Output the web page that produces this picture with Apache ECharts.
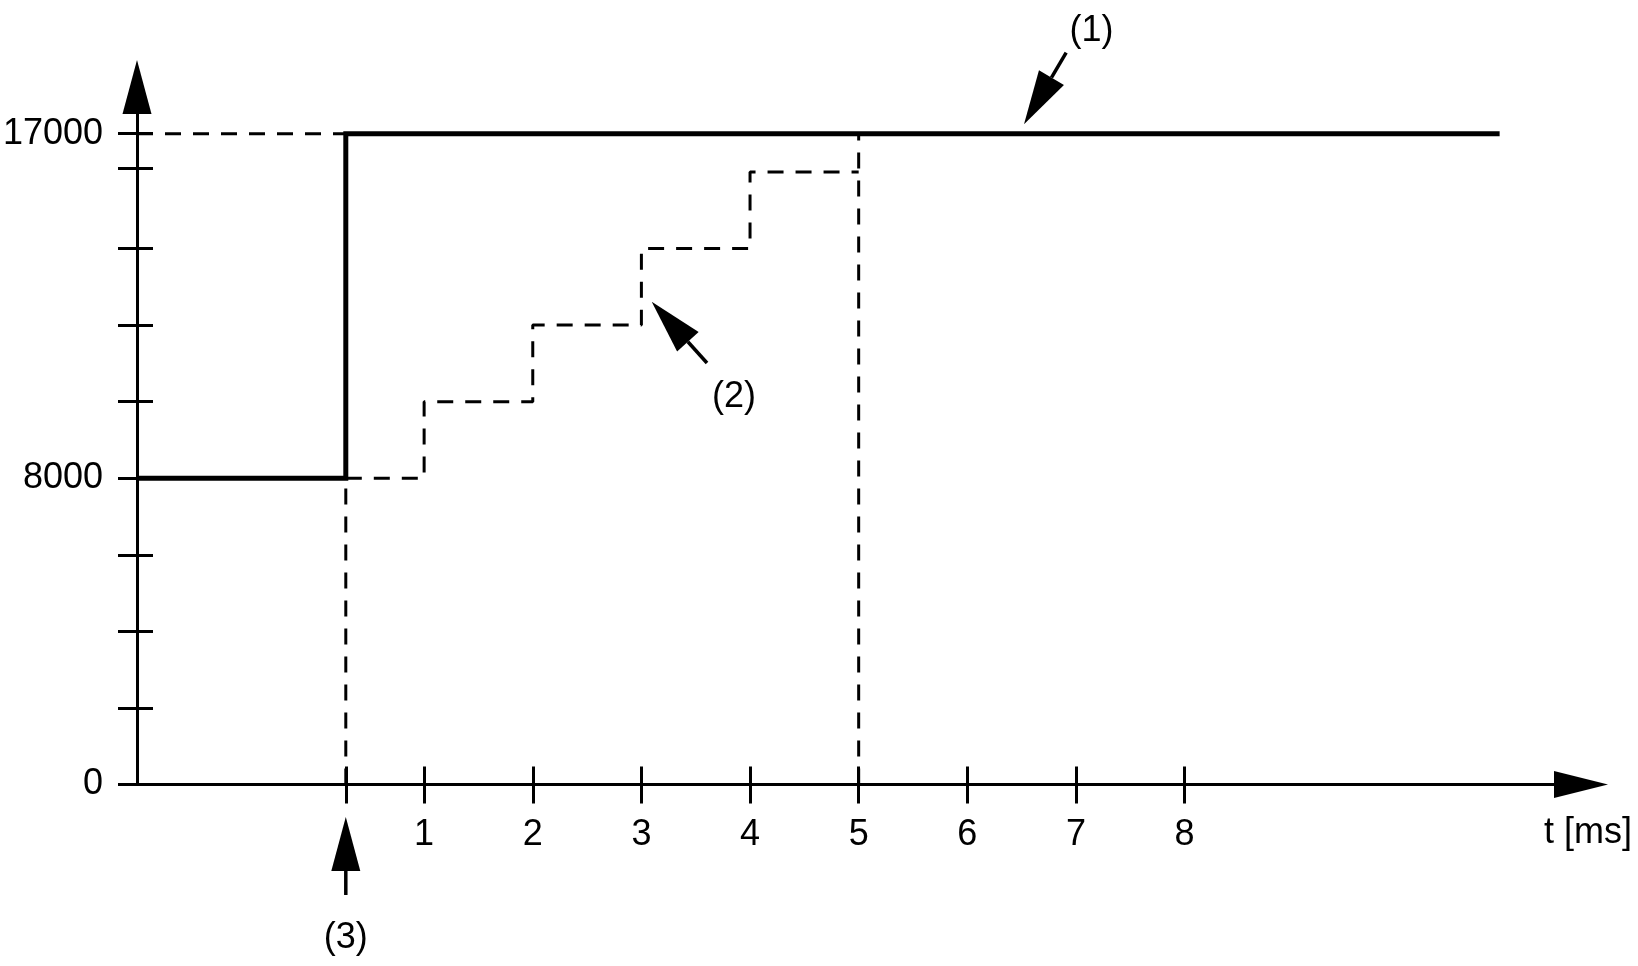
<!DOCTYPE html>
<html><head><meta charset="utf-8">
<script src="https://cdn.jsdelivr.net/npm/echarts@6/dist/echarts.min.js"></script>
<style>html,body{margin:0;padding:0;background:#fff}#c{width:1638px;height:966px}</style>
</head><body><div id="c"></div>
<script>
// ---- data ----
const X_MIN = -1.643, X_MAX = 11.649;
const Y_MIN = 0, Y_MAX = 18220;
const xTickLabels = [1, 2, 3, 4, 5, 6, 7, 8];
const xTicks = [0.279, 1, 2, 3, 4, 5, 6, 7, 8];
const yTickLabels = [0, 8000, 17000];
const yTicks = [0, 2000, 4000, 6000, 8000, 10000, 12000, 14000, 16100, 17000];
const setpointT = [-1.643, 0.279, 0.279, 10.9];
const setpointV = [8000, 8000, 17000, 17000];
const rampT = [0.279, 1, 2, 3, 4, 5];
const rampV = [8000, 10000, 12000, 14000, 16000, 16000];
const guideTopT = [-1.643, 0.279];
const guideTopV = [17000, 17000];
const guideEventT = [0.279, 0.279];
const guideEventV = [0, 8000];
const guideEndT = [5, 5];
const guideEndV = [0, 17000];
const annLabels = ['(1)', '(2)', '(3)'];
const annTip = [[6.522, 17250], [3.095, 12612], [0.279, -849]];
const annTail = [[6.91, 19116], [3.604, 11010], [0.279, -2886]];
const annText = [[7.144, 19675], [3.853, 10122], [0.279, -4009]];
const axisName = 't [ms]';

const FONT = '"Liberation Sans Narrow", "Arial Narrow", "Liberation Sans", Arial, sans-serif';
const FS = 36;
const zip = (a, b) => a.map((v, i) => [v, b[i]]);

const chart = echarts.init(document.getElementById('c'), null, {renderer: 'canvas'});
const dashed = {color: '#000', width: 3, type: [16, 12]};
const lineSeries = (t, v, style, z) => ({
  type: 'line', data: zip(t, v), symbol: 'none', lineStyle: style, z: z || 2,
  silent: true, animation: false
});

chart.setOption({
  animation: false,
  backgroundColor: '#fff',
  grid: {left: 137, right: 57, top: 87, bottom: 181.5, outerBoundsMode: 'none', containLabel: false},
  xAxis: [{
    type: 'value', min: X_MIN, max: X_MAX, position: 'bottom',
    splitLine: {show: false},
    axisLine: {onZero: false, lineStyle: {color: '#000', width: 3}, symbol: ['none', 'triangle'], symbolSize: [27, 54]},
    axisTick: {show: true, inside: false, length: 19, customValues: xTicks, lineStyle: {color: '#000', width: 3}},
    axisLabel: {customValues: xTickLabels, margin: 33, color: '#000', fontSize: FS, fontFamily: FONT, formatter: v => String(v)},
    name: axisName, nameLocation: 'end', nameGap: 7,
    nameTextStyle: {color: '#000', fontSize: FS, fontFamily: FONT, align: 'center', verticalAlign: 'top', padding: [31, 0, 0, 0]}
  }, {
    type: 'value', min: X_MIN, max: X_MAX, position: 'bottom', offset: 0,
    splitLine: {show: false}, axisLine: {show: false, onZero: false},
    axisTick: {show: true, inside: true, length: 18, customValues: xTicks, lineStyle: {color: '#000', width: 3}},
    axisLabel: {show: false}
  }],
  yAxis: [{
    type: 'value', min: Y_MIN, max: Y_MAX, position: 'left',
    splitLine: {show: false},
    axisLine: {onZero: false, lineStyle: {color: '#000', width: 3}, symbol: ['none', 'triangle'], symbolSize: [29, 54]},
    axisTick: {show: true, inside: false, length: 19, customValues: yTicks, lineStyle: {color: '#000', width: 3}},
    axisLabel: {customValues: yTickLabels, margin: 34, color: '#000', fontSize: FS, fontFamily: FONT, formatter: v => String(v)}
  }, {
    type: 'value', min: Y_MIN, max: Y_MAX, position: 'left', offset: 0,
    splitLine: {show: false}, axisLine: {show: false, onZero: false},
    axisTick: {show: true, inside: true, length: 16, customValues: yTicks, lineStyle: {color: '#000', width: 3}},
    axisLabel: {show: false}
  }],
  series: [
    lineSeries(guideTopT, guideTopV, dashed, 1),
    lineSeries(guideEventT, guideEventV, dashed, 1),
    lineSeries(guideEndT, guideEndV, dashed, 1),
    Object.assign(lineSeries(rampT, rampV, dashed, 2), {step: 'end'}),
    lineSeries(setpointT, setpointV, {color: '#000', width: 5, type: 'solid', cap: 'butt', join: 'miter'}, 3),
    {
      type: 'custom', clip: false, silent: true, z: 5,
      data: annTip.map(p => [p[0], p[1]]),
      encode: {x: 0, y: 1},
      renderItem: function (params, api) {
        const i = params.dataIndex;
        const tip = api.coord(annTip[i]);
        const tail = api.coord(annTail[i]);
        const lp = api.coord(annText[i]);
        let dx = tip[0] - tail[0], dy = tip[1] - tail[1];
        const L = Math.hypot(dx, dy); dx /= L; dy /= L;
        const HL = 54, HW = 14.5;
        const bx = tip[0] - dx * HL, by = tip[1] - dy * HL;
        return {
          type: 'group', children: [
            {type: 'line', shape: {x1: tail[0], y1: tail[1], x2: bx, y2: by}, style: {stroke: '#000', lineWidth: 3.5}},
            {type: 'polygon', shape: {points: [tip, [bx - dy * HW, by + dx * HW], [bx + dy * HW, by - dx * HW]]}, style: {fill: '#000'}},
            {type: 'text', x: lp[0], y: lp[1], style: {text: annLabels[i], align: 'center', verticalAlign: 'middle', fontSize: FS, fontFamily: FONT, fill: '#000'}}
          ]
        };
      }
    }
  ]
});
</script></body></html>
